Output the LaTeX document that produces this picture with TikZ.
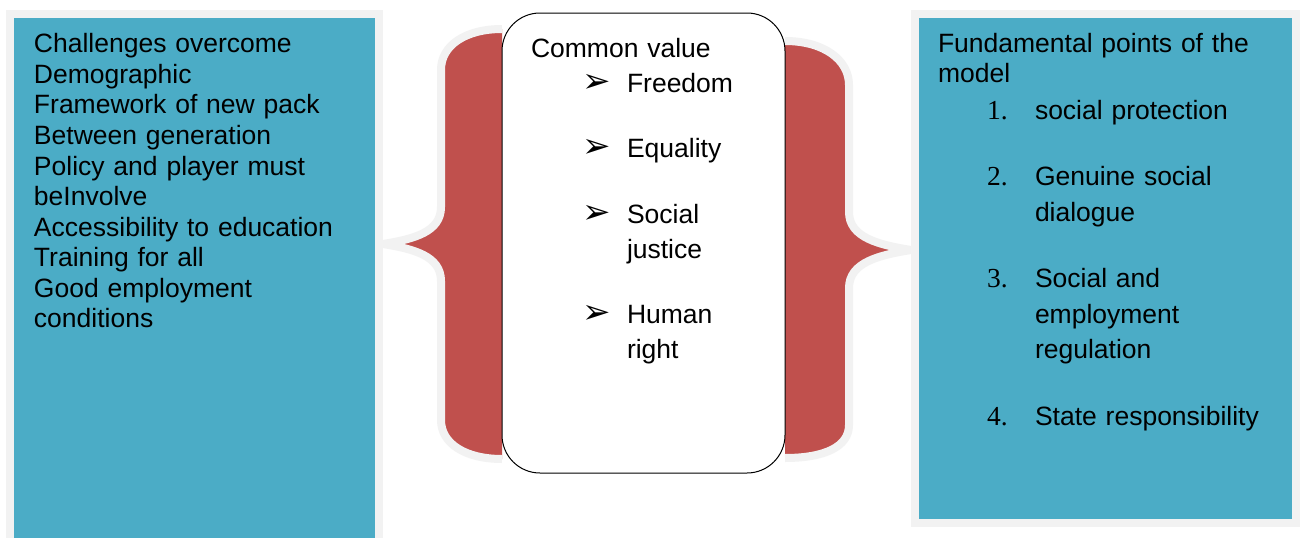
\documentclass[tikz,border=0pt]{standalone}
\usepackage{fontspec}
\setmainfont{Liberation Sans}
\newfontfamily\numfont{Liberation Serif}
\newfontfamily\symfont{DejaVu Sans}
\definecolor{panelblue}{HTML}{4BACC6}
\definecolor{panelgray}{HTML}{F2F2F2}
\definecolor{bracered}{HTML}{C0504D}
\newcommand\arrbul{\leavevmode\llap{\makebox[45pt][l]{\symfont\fontsize{34}{34}\selectfont ➢}}}
\newcommand\numitem[1]{\leavevmode\llap{\makebox[48pt][l]{\numfont\fontsize{27.5}{27.5}\selectfont #1}}}
\tikzset{
  panel/.style={draw=panelgray, fill=panelblue, line width=8pt, inner sep=0pt, outer sep=0pt, anchor=north west},
  valuebox/.style={draw=black, fill=white, line width=1pt, rounded corners=38pt, inner sep=0pt, outer sep=0pt, anchor=north west},
  bracket/.style={fill=bracered, draw=panelgray, line width=8pt, line join=round},
  txt/.style={inner sep=0pt, outer sep=0pt, anchor=base west, align=left, font=\fontsize{26.5}{30.6}\selectfont},
  listtxt/.style={txt, font=\fontsize{26.5}{35.5}\selectfont}
}
\begin{document}
\begin{tikzpicture}[x=1pt,y=-1pt]
\useasboundingbox[fill=white] (0,0) rectangle (1302,538);
% panels
\node[panel, minimum width=369pt, minimum height=531.5pt] (leftpanel) at (10,13.5) {};
\node[panel, minimum width=381pt, minimum height=509pt] (rightpanel) at (915,13.5) {};
% brace tips
\coordinate (ltip) at (383,244);
\coordinate (rtip) at (911,250);
% left brace
\path[bracket] (502,29) .. controls (466,29) and (441,45) .. (441,70)
  -- (441,207) .. controls (441,232) and (414,239) .. (ltip)
  .. controls (414,249) and (441,256) .. (441,281)
  -- (441,420) .. controls (441,444) and (466,459) .. (502,459);
% right brace
\path[bracket] (785,41) .. controls (824,41) and (849,60) .. (849,85)
  -- (849,212) .. controls (849,238) and (880,245) .. (rtip)
  .. controls (880,255) and (849,262) .. (849,288)
  -- (849,425) .. controls (849,447) and (824,458) .. (785,458);
% center box
\node[valuebox, minimum width=283pt, minimum height=460pt] (valuespanel) at (502,13) {};
% texts
\node[txt, text width=340pt] (lefttext) at (34,52.6) {Challenges overcome\\Demographic\\Framework of new pack\\Between generation\\Policy and player must\\beInvolve\\Accessibility to education\\Training for all\\Good employment\\conditions};
\node[txt, text width=240pt] (cvtitle) at (531,57) {Common value};
\node[txt, text width=150pt, font=\fontsize{26.5}{35}\selectfont] (values) at (627,92) {\arrbul Freedom\\[30.5pt]\arrbul Equality\\[30.5pt]\arrbul Social\\justice\\[30.5pt]\arrbul Human\\right};
\node[txt, text width=350pt] (righttitle) at (938,52) {Fundamental points of the\\model};
\node[listtxt, text width=255pt] (points) at (1035,119) {\numitem{1.}social protection\\[31pt]\numitem{2.}Genuine social\\dialogue\\[31pt]\numitem{3.}Social and\\employment\\regulation\\[31pt]\numitem{4.}State responsibility};
\end{tikzpicture}
\end{document}
